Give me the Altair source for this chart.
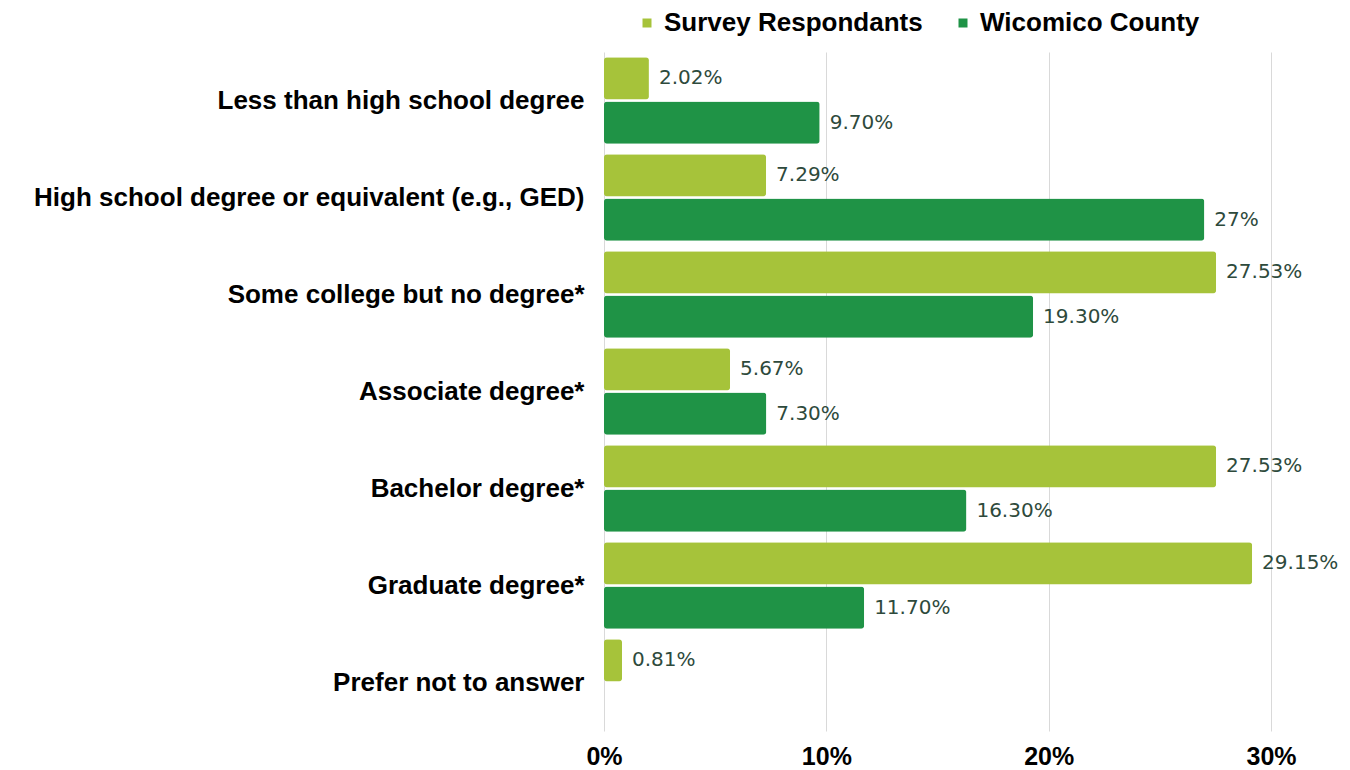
import altair as alt
import pandas as pd

categories = [
    "Less than high school degree",
    "High school degree or equivalent (e.g., GED)",
    "Some college but no degree*",
    "Associate degree*",
    "Bachelor degree*",
    "Graduate degree*",
    "Prefer not to answer",
]
series = ["Survey Respondants", "Wicomico County"]
survey_values = [2.02, 7.29, 27.53, 5.67, 27.53, 29.15, 0.81]
survey_labels = ["2.02%", "7.29%", "27.53%", "5.67%", "27.53%", "29.15%", "0.81%"]
county_values = [9.70, 27.0, 19.30, 7.30, 16.30, 11.70, None]
county_labels = ["9.70%", "27%", "19.30%", "7.30%", "16.30%", "11.70%", None]
x_ticks = [0, 10, 20, 30]
colors = ["#A6C33A", "#1F9346"]

rows = []
for c, v, l in zip(categories, survey_values, survey_labels):
    rows.append({"cat": c, "series": series[0], "value": v, "label": l})
for c, v, l in zip(categories, county_values, county_labels):
    if v is not None:
        rows.append({"cat": c, "series": series[1], "value": v, "label": l})
df = pd.DataFrame(rows)

LABEL_FONT = "'Liberation Sans', Arial, sans-serif"
VALUE_FONT = "'DejaVu Sans', Verdana, sans-serif"

y_enc = alt.Y(
    "cat:N",
    sort=categories,
    scale=alt.Scale(paddingInner=0.11, paddingOuter=0.055),
    axis=alt.Axis(
        title=None,
        labelFont=LABEL_FONT,
        labelFontSize=26,
        labelFontWeight="bold",
        labelColor="#000000",
        labelPadding=20,
        labelLimit=700,
        ticks=False,
        domain=False,
        grid=False,
    ),
)
x_enc = alt.X(
    "value:Q",
    scale=alt.Scale(domain=[0, 30], nice=False),
    axis=alt.Axis(
        title=None,
        values=x_ticks,
        labelExpr="datum.value + '%'",
        labelFont=LABEL_FONT,
        labelFontSize=25,
        labelFontWeight="bold",
        labelColor="#000000",
        labelPadding=13,
        labelFlush=False,
        ticks=False,
        domain=False,
        grid=True,
        gridColor="#D9D9D9",
        gridWidth=1,
    ),
)
yoff = alt.YOffset("series:N", sort=series, scale=alt.Scale(paddingInner=0.05))

bars = alt.Chart(df).mark_bar(cornerRadius=3).encode(
    y=y_enc,
    x=x_enc,
    yOffset=yoff,
    color=alt.Color(
        "series:N",
        sort=series,
        scale=alt.Scale(domain=series, range=colors),
        legend=alt.Legend(
            title=None,
            orient="none",
            direction="horizontal",
            legendX=30,
            legendY=-42,
            padding=0,
            symbolType="square",
            symbolSize=81,
            symbolStrokeWidth=0,
            labelFont=LABEL_FONT,
            labelFontSize=26,
            labelFontWeight="bold",
            labelColor="#000000",
            labelOffset=4,
            columnPadding=27,
            labelLimit=400,
        ),
    ),
)

text = alt.Chart(df).mark_text(
    align="left",
    baseline="middle",
    dx=10,
    font=VALUE_FONT,
    fontSize=20,
    color="#2E4A3C",
).encode(
    y=alt.Y("cat:N", sort=categories),
    x=alt.X("value:Q"),
    yOffset=alt.YOffset("series:N", sort=series),
    text="label:N",
)

chart = (
    alt.layer(bars, text)
    .properties(
        width=667,
        height=679,
        autosize=alt.AutoSizeParams(type="none"),
        padding={"left": 596, "top": 44, "right": 70, "bottom": 60},
        background="#FFFFFF",
    )
    .configure_view(stroke=None)
)

chart.save("out.html", embed_options={"renderer": "svg", "actions": False})
